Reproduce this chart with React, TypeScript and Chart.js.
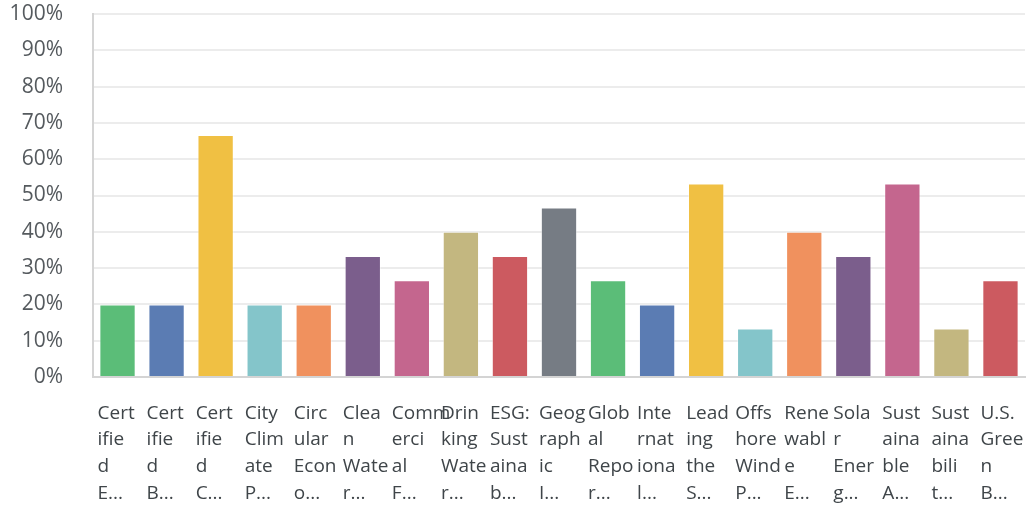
import React, { useEffect, useRef } from "react";
import { Chart, registerables } from "chart.js";

Chart.register(...registerables);

const categories: string[][] = [
  ["Cert", "ifie", "d", "E..."],
  ["Cert", "ifie", "d", "B..."],
  ["Cert", "ifie", "d", "C..."],
  ["City", "Clim", "ate", "P..."],
  ["Circ", "ular", "Econ", "o..."],
  ["Clea", "n", "Wate", "r..."],
  ["Comm", "erci", "al", "F..."],
  ["Drin", "king", "Wate", "r..."],
  ["ESG:", "Sust", "aina", "b..."],
  ["Geog", "raph", "ic", "I..."],
  ["Glob", "al", "Repo", "r..."],
  ["Inte", "rnat", "iona", "l..."],
  ["Lead", "ing", "the", "S..."],
  ["Offs", "hore", "Wind", "P..."],
  ["Rene", "wabl", "e", "E..."],
  ["Sola", "r", "Ener", "g..."],
  ["Sust", "aina", "ble", "A..."],
  ["Sust", "aina", "bili", "t..."],
  ["U.S.", "Gree", "n", "B..."],
];

const values: number[] = [
  20, 20, 66.67, 20, 20, 33.33, 26.67, 40, 33.33, 46.67, 26.67, 20, 53.33,
  13.33, 40, 33.33, 53.33, 13.33, 26.67,
];

const palette: string[] = [
  "#5bbd78",
  "#5b7cb3",
  "#f0c043",
  "#84c5ca",
  "#f0915e",
  "#7b5e8c",
  "#c4668e",
  "#c3b780",
  "#cc5a60",
  "#767c84",
];

const yTicks: number[] = [0, 10, 20, 30, 40, 50, 60, 70, 80, 90, 100];

export default function App() {
  const ref = useRef<HTMLCanvasElement | null>(null);
  useEffect(() => {
    document.body.style.margin = "0";
    if (!ref.current) return;
    const colors = values.map((_, i) => palette[i % palette.length]);
    const chart = new Chart(ref.current, {
      type: "bar",
      data: {
        labels: categories,
        datasets: [
          {
            data: values,
            backgroundColor: colors,
            borderColor: "rgba(255,255,255,0.45)",
            borderWidth: 1,
            barPercentage: 0.74,
            categoryPercentage: 1,
          },
        ],
      },
      options: {
        animation: false,
        responsive: false,
        maintainAspectRatio: false,
        layout: { padding: { left: 0, right: 3, top: 14, bottom: 0 } },
        plugins: { legend: { display: false }, tooltip: { enabled: false } },
        scales: {
          x: {
            afterFit: (scale: any) => {
              scale.height = 133;
              scale.paddingLeft = 0;
              scale.paddingRight = 0;
            },
            grid: { display: false, drawTicks: false },
            border: { display: true, color: "#d4d4d4", width: 2 },
            ticks: {
              autoSkip: false,
              maxRotation: 0,
              minRotation: 0,
              align: "start",
              labelOffset: -20,
              padding: 23,
              color: "#3f4549",
              font: { family: "Open Sans", size: 19, lineHeight: 1.4 },
            },
          },
          y: {
            min: 0,
            max: 100,
            afterFit: (scale: any) => {
              scale.width = 93;
              scale.paddingTop = 0;
              scale.paddingBottom = 0;
            },
            afterBuildTicks: (scale: any) => {
              scale.ticks = yTicks.map((v) => ({ value: v }));
            },
            grid: { color: "#ececec", lineWidth: 2, drawTicks: false },
            border: { display: true, color: "#d4d4d4", width: 2 },
            ticks: {
              padding: 30,
              color: "#555a5e",
              font: { family: "Open Sans", size: 21 },
              callback: (v: any) => v + "%",
            },
          },
        },
      },
    });
    return () => chart.destroy();
  }, []);
  return (
    <div style={{ position: "fixed", left: 0, top: 0, width: 1028, height: 510 }}>
      <canvas ref={ref} width={1028} height={510} />
    </div>
  );
}
